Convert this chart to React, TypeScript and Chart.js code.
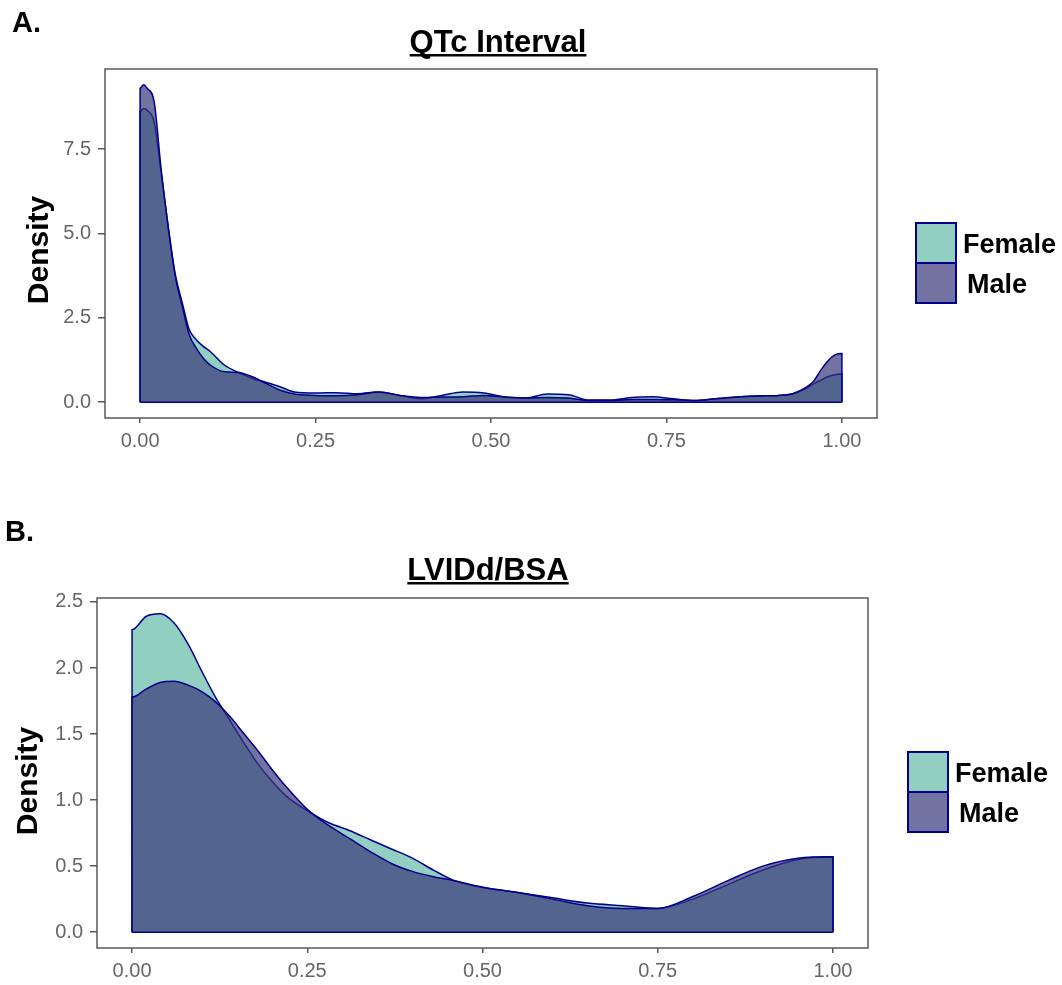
import React, { useEffect, useRef } from 'react';
import { Chart, registerables } from 'chart.js';

Chart.register(...registerables);

// ---------- data ----------
const SERIES = ['Female', 'Male'];
const Y_TITLE = 'Density';
const X_TICKS = [0, 0.25, 0.5, 0.75, 1];

const QTC_TITLE = 'QTc Interval';
const QTC_Y_TICKS = [0, 2.5, 5, 7.5];
const QTC_X = [0, 0.005, 0.01, 0.02, 0.03, 0.04, 0.05, 0.06, 0.07, 0.08, 0.09, 0.1, 0.12, 0.14, 0.16, 0.18, 0.2, 0.22, 0.25, 0.28, 0.31, 0.34, 0.37, 0.4, 0.43, 0.46, 0.49, 0.52, 0.55, 0.58, 0.61, 0.64, 0.67, 0.7, 0.73, 0.76, 0.79, 0.82, 0.85, 0.88, 0.91, 0.93, 0.95, 0.96, 0.97, 0.98, 0.99, 1.0];
const QTC_FEMALE = [8.6, 8.7, 8.65, 8.3, 6.8, 5.2, 3.8, 2.95, 2.15, 1.85, 1.65, 1.5, 1.1, 0.88, 0.7, 0.58, 0.45, 0.3, 0.27, 0.28, 0.25, 0.3, 0.2, 0.1, 0.2, 0.3, 0.27, 0.15, 0.12, 0.24, 0.22, 0.06, 0.06, 0.14, 0.16, 0.1, 0.05, 0.1, 0.15, 0.18, 0.2, 0.25, 0.42, 0.55, 0.65, 0.75, 0.81, 0.83];
const QTC_MALE = [9.3, 9.4, 9.3, 8.9, 6.9, 5.2, 3.75, 2.85, 2.0, 1.6, 1.3, 1.1, 0.9, 0.88, 0.75, 0.55, 0.35, 0.24, 0.2, 0.19, 0.22, 0.3, 0.2, 0.14, 0.15, 0.16, 0.2, 0.15, 0.12, 0.14, 0.12, 0.05, 0.05, 0.08, 0.08, 0.07, 0.05, 0.1, 0.15, 0.18, 0.2, 0.25, 0.45, 0.63, 0.95, 1.22, 1.4, 1.44];

const LVID_TITLE = 'LVIDd/BSA';
const LVID_Y_TICKS = [0, 0.5, 1, 1.5, 2, 2.5];
const LVID_X = [0, 0.02, 0.04, 0.06, 0.08, 0.1, 0.12, 0.14, 0.16, 0.18, 0.2, 0.22, 0.25, 0.28, 0.31, 0.34, 0.37, 0.4, 0.43, 0.46, 0.5, 0.55, 0.6, 0.65, 0.7, 0.75, 0.8, 0.85, 0.9, 0.95, 1.0];
const LVID_FEMALE = [2.29, 2.39, 2.41, 2.34, 2.18, 1.97, 1.77, 1.6, 1.43, 1.27, 1.14, 1.03, 0.92, 0.83, 0.77, 0.7, 0.63, 0.56, 0.47, 0.39, 0.34, 0.3, 0.26, 0.22, 0.2, 0.18, 0.25, 0.36, 0.47, 0.55, 0.57];
const LVID_MALE = [1.78, 1.84, 1.89, 1.9, 1.87, 1.82, 1.74, 1.63, 1.5, 1.37, 1.23, 1.1, 0.93, 0.81, 0.71, 0.61, 0.52, 0.46, 0.42, 0.39, 0.34, 0.3, 0.25, 0.2, 0.18, 0.18, 0.27, 0.39, 0.5, 0.56, 0.57];

// ---------- styles ----------
const FONT = "'Liberation Sans', Arial, Helvetica, sans-serif";
const OUTLINE = '#00008B';
const FEMALE_FILL = 'rgba(40,160,130,0.5)';
const MALE_FILL = 'rgba(55,55,122,0.7)';
const FRAME = '#5a5a5a';
const TICK_COLOR = '#666666';
const W = 1062;

type Panel = {
  tag: string;
  title: string;
  xs: number[];
  female: number[];
  male: number[];
  yTicks: number[];
  yMin: number;
  yMax: number;
  height: number;
  top: number;
  area: { left: number; right: number; top: number; bottom: number };
  tagPos: { x: number; y: number };
  titlePos: { x: number; y: number };
  yTitlePos: { x: number; y: number };
  legendPos: { x: number; y: number };
};

const PANELS: Panel[] = [
  {
    tag: 'A.',
    title: QTC_TITLE,
    xs: QTC_X,
    female: QTC_FEMALE,
    male: QTC_MALE,
    yTicks: QTC_Y_TICKS,
    yMin: -0.47,
    yMax: 9.87,
    height: 490,
    top: 0,
    area: { left: 105, right: 877, top: 69, bottom: 418 },
    tagPos: { x: 12, y: 32 },
    titlePos: { x: 498, y: 52 },
    yTitlePos: { x: 40, y: 250 },
    legendPos: { x: 916, y: 223 },
  },
  {
    tag: 'B.',
    title: LVID_TITLE,
    xs: LVID_X,
    female: LVID_FEMALE,
    male: LVID_MALE,
    yTicks: LVID_Y_TICKS,
    yMin: -0.12,
    yMax: 2.53,
    height: 495,
    top: 490,
    area: { left: 97, right: 868, top: 108, bottom: 458 },
    tagPos: { x: 5, y: 51 },
    titlePos: { x: 488, y: 90 },
    yTitlePos: { x: 29, y: 291 },
    legendPos: { x: 908, y: 262 },
  },
];

function toArea(xs: number[], vs: number[]) {
  const pts = xs.map((x, i) => ({ x, y: vs[i] }));
  return [{ x: xs[0], y: 0 }, ...pts, { x: xs[xs.length - 1], y: 0 }];
}

function decorPlugin(p: Panel) {
  return {
    id: 'decor',
    afterDraw(chart: any) {
      const ctx = chart.ctx as CanvasRenderingContext2D;
      const a = chart.chartArea;
      ctx.save();
      // panel frame
      ctx.strokeStyle = FRAME;
      ctx.lineWidth = 1.5;
      ctx.strokeRect(a.left, a.top, a.right - a.left, a.bottom - a.top);

      // panel tag
      ctx.fillStyle = '#000';
      ctx.textBaseline = 'alphabetic';
      ctx.textAlign = 'left';
      ctx.font = `bold 29px ${FONT}`;
      ctx.fillText(p.tag, p.tagPos.x, p.tagPos.y);

      // title with underline
      ctx.font = `bold 31px ${FONT}`;
      ctx.textAlign = 'center';
      ctx.fillText(p.title, p.titlePos.x, p.titlePos.y);
      const tw = ctx.measureText(p.title).width;
      ctx.fillRect(p.titlePos.x - tw / 2, p.titlePos.y + 2, tw, 2.5);

      // legend
      const bw = 40;
      const bh = 40;
      const fills = [FEMALE_FILL, MALE_FILL];
      SERIES.forEach((name, i) => {
        const ds = chart.data.datasets.find((d: any) => d.label === name);
        const bx = p.legendPos.x;
        const by = p.legendPos.y + i * bh;
        ctx.fillStyle = '#ffffff';
        ctx.fillRect(bx, by, bw, bh);
        ctx.fillStyle = ds ? ds.backgroundColor : fills[i];
        ctx.fillRect(bx, by, bw, bh);
        ctx.strokeStyle = OUTLINE;
        ctx.lineWidth = 2;
        ctx.strokeRect(bx, by, bw, bh);
        ctx.fillStyle = '#000';
        ctx.textAlign = 'left';
        ctx.font = `bold 27px ${FONT}`;
        ctx.fillText(name, bx + bw + (i === 0 ? 7 : 11), by + 30);
      });

      // y axis title
      ctx.translate(p.yTitlePos.x, p.yTitlePos.y);
      ctx.rotate(-Math.PI / 2);
      ctx.font = `bold 30px ${FONT}`;
      ctx.textAlign = 'center';
      ctx.textBaseline = 'middle';
      ctx.fillStyle = '#000';
      ctx.fillText(Y_TITLE, 0, 0);
      ctx.restore();
    },
  };
}

function DensityPanel({ p }: { p: Panel }) {
  const ref = useRef<HTMLCanvasElement | null>(null);
  useEffect(() => {
    if (!ref.current) return;
    const last = p.xs.length - 1;
    const chart = new Chart(ref.current, {
      type: 'line',
      data: {
        datasets: [
          {
            label: 'Female',
            data: toArea(p.xs, p.female),
            borderColor: OUTLINE,
            backgroundColor: FEMALE_FILL,
            fill: 'origin',
            borderWidth: 1.5,
            pointRadius: 0,
            cubicInterpolationMode: 'monotone',
            order: 2,
          },
          {
            label: 'Male',
            data: toArea(p.xs, p.male),
            borderColor: OUTLINE,
            backgroundColor: MALE_FILL,
            fill: 'origin',
            borderWidth: 1.5,
            pointRadius: 0,
            cubicInterpolationMode: 'monotone',
            order: 1,
          },
          {
            label: 'baseline',
            data: [
              { x: p.xs[0], y: 0 },
              { x: p.xs[last], y: 0 },
            ],
            borderColor: OUTLINE,
            borderWidth: 1.5,
            pointRadius: 0,
            fill: false,
            order: 0,
          },
        ],
      } as any,
      options: {
        animation: false,
        responsive: false,
        maintainAspectRatio: false,
        layout: { padding: { left: 0, top: p.area.top, right: W - p.area.right, bottom: 0 } },
        plugins: { legend: { display: false }, tooltip: { enabled: false }, title: { display: false } },
        scales: {
          x: {
            type: 'linear',
            min: -0.05,
            max: 1.05,
            afterFit: (s: any) => {
              s.height = p.height - p.area.bottom;
            },
            afterBuildTicks: (s: any) => {
              s.ticks = X_TICKS.map((v) => ({ value: v }));
            },
            ticks: {
              callback: (v: any) => Number(v).toFixed(2),
              color: TICK_COLOR,
              font: { family: FONT, size: 20 },
              padding: 6,
              maxRotation: 0,
              autoSkip: false,
            },
            grid: { drawOnChartArea: false, drawTicks: true, tickLength: 5, color: FRAME, lineWidth: 1.5 },
            border: { display: false },
          },
          y: {
            type: 'linear',
            min: p.yMin,
            max: p.yMax,
            afterFit: (s: any) => {
              s.width = p.area.left;
            },
            afterBuildTicks: (s: any) => {
              s.ticks = p.yTicks.map((v) => ({ value: v }));
            },
            ticks: {
              callback: (v: any) => Number(v).toFixed(1),
              color: TICK_COLOR,
              font: { family: FONT, size: 20 },
              padding: 7,
              autoSkip: false,
            },
            grid: { drawOnChartArea: false, drawTicks: true, tickLength: 7, color: FRAME, lineWidth: 1.5 },
            border: { display: false },
          },
        },
      } as any,
      plugins: [decorPlugin(p)],
    });
    return () => chart.destroy();
  }, [p]);
  return (
    <canvas
      ref={ref}
      width={W}
      height={p.height}
      style={{ position: 'absolute', left: 0, top: p.top, width: W, height: p.height, display: 'block' }}
    />
  );
}

export default function App() {
  return (
    <div style={{ position: 'absolute', left: 0, top: 0, width: W, height: 985, background: '#ffffff' }}>
      {PANELS.map((p) => (
        <DensityPanel key={p.tag} p={p} />
      ))}
    </div>
  );
}
